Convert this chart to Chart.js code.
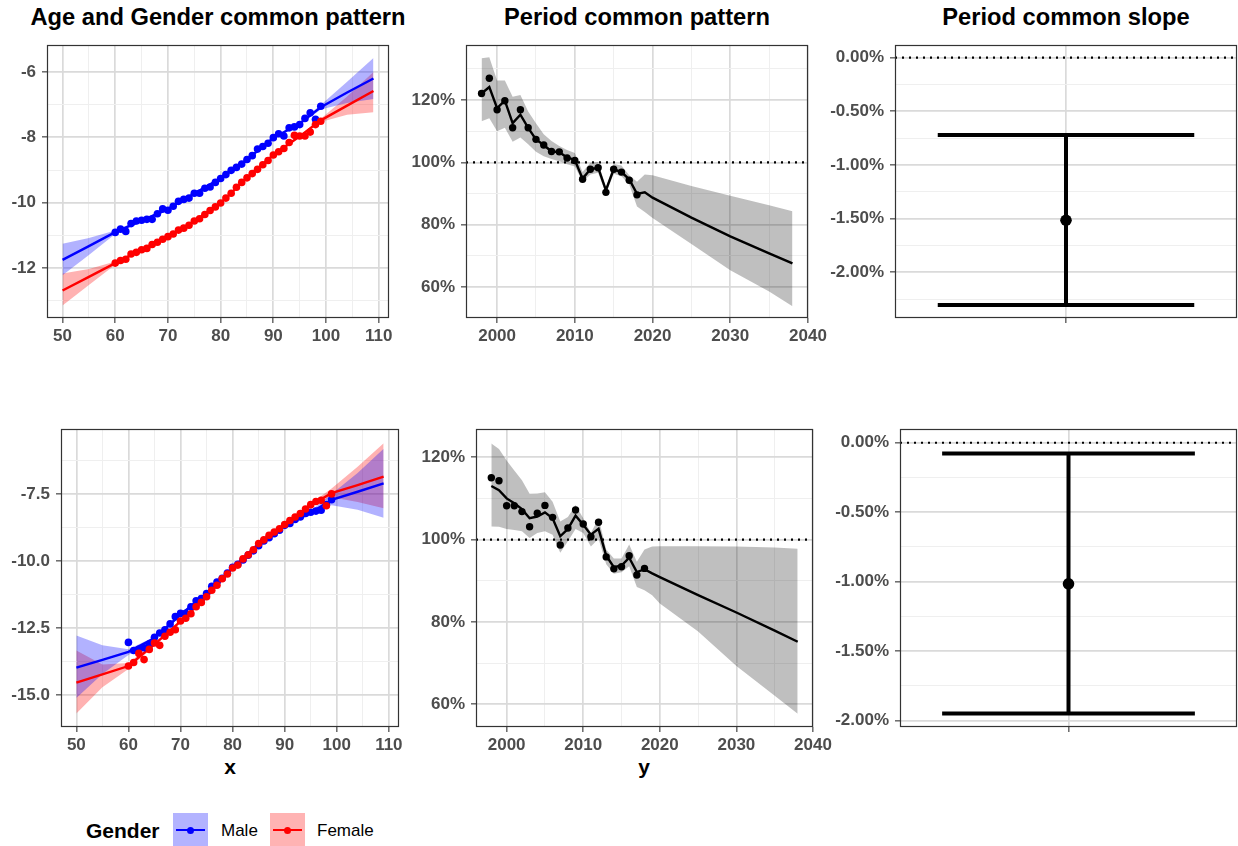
<!DOCTYPE html>
<html>
<head>
<meta charset="utf-8">
<script src="https://cdn.jsdelivr.net/npm/chart.js@4.4.1/dist/chart.umd.min.js"></script>
<style>
  body { margin: 0; background: #fff; width: 1238px; height: 846px; overflow: hidden; position: relative;
         font-family: "Liberation Sans", Arial, Helvetica, sans-serif; }
  canvas { position: absolute; }
  .txt { position: absolute; white-space: nowrap; line-height: 1; color: #000; }
  .title { font-weight: bold; font-size: 23.7px; transform: translateX(-50%); }
  .axtitle { font-weight: bold; font-size: 21px; transform: translateX(-50%); }
  .key { position: absolute; width: 35px; height: 34px; }
  .key .ln { position: absolute; left: 3px; width: 29px; top: 16px; height: 2px; }
  .key .dt { position: absolute; left: 14px; top: 13.5px; width: 7px; height: 7px; border-radius: 50%; }
</style>
</head>
<body>

<div class="txt title" style="left:218px; top:6px;">Age and Gender common pattern</div>
<div class="txt title" style="left:637px; top:6px;">Period common pattern</div>
<div class="txt title" style="left:1066px; top:6px;">Period common slope</div>

<div class="txt axtitle" style="left:230px; top:756px;">x</div>
<div class="txt axtitle" style="left:644px; top:756px;">y</div>

<div class="txt" style="left:86px; top:820px; font-weight:bold; font-size:21px;">Gender</div>
<div class="key" style="left:173px; top:813px; background:#B3B3FF;">
  <div class="ln" style="background:#0000FF;"></div><div class="dt" style="background:#0000FF;"></div>
</div>
<div class="txt" style="left:221px; top:822px; font-size:17px;">Male</div>
<div class="key" style="left:270px; top:813px; background:#FFB3B3;">
  <div class="ln" style="background:#FF0000;"></div><div class="dt" style="background:#FF0000;"></div>
</div>
<div class="txt" style="left:317px; top:822px; font-size:17px;">Female</div>

<script>
const FONT = '"Liberation Sans", Arial, Helvetica, sans-serif';

// ---------- age / gender pattern ----------
const ages = [60,61,62,63,64,65,66,67,68,69,70,71,72,73,74,75,76,77,78,79,
              80,81,82,83,84,85,86,87,88,89,90,91,92,93,94,95,96,97,98,99];
const maleTop = [-10.91,-10.81,-10.88,-10.64,-10.56,-10.54,-10.51,-10.51,-10.34,-10.19,
                 -10.23,-10.11,-9.96,-9.90,-9.86,-9.71,-9.71,-9.56,-9.52,-9.38,
                 -9.26,-9.14,-9.01,-8.92,-8.82,-8.68,-8.56,-8.36,-8.28,-8.18,
                 -8.01,-7.89,-7.96,-7.71,-7.68,-7.61,-7.42,-7.25,-7.45,-7.05];
const femaleTop = [-11.85,-11.77,-11.73,-11.57,-11.52,-11.44,-11.40,-11.28,-11.21,-11.12,
                   -11.04,-10.96,-10.84,-10.78,-10.69,-10.56,-10.49,-10.36,-10.24,-10.13,
                   -10.01,-9.86,-9.71,-9.53,-9.38,-9.24,-9.11,-8.98,-8.84,-8.71,
                   -8.54,-8.44,-8.34,-8.16,-7.94,-7.96,-7.96,-7.84,-7.61,-7.51];
const maleBot = [-13.03,-13.33,-13.29,-13.23,-13.09,-12.84,-12.68,-12.56,-12.34,-12.07,
                 -11.95,-11.95,-11.70,-11.48,-11.40,-11.21,-10.94,-10.78,-10.64,-10.45,
                 -10.23,-10.12,-9.96,-9.78,-9.62,-9.43,-9.25,-9.13,-8.98,-8.85,
                 -8.67,-8.60,-8.45,-8.36,-8.23,-8.18,-8.14,-8.11,-7.90,-7.72];
const femaleBot = [-13.91,-13.78,-13.44,-13.67,-13.29,-13.05,-13.14,-12.80,-12.65,-12.56,
                   -12.23,-12.13,-11.96,-11.70,-11.54,-11.33,-11.09,-10.90,-10.66,-10.48,
                   -10.26,-10.15,-9.92,-9.77,-9.58,-9.35,-9.21,-9.04,-8.92,-8.80,
                   -8.64,-8.49,-8.36,-8.23,-8.06,-7.90,-7.78,-7.74,-7.94,-7.50];

// fitted curves and confidence bands
const fitAges = [50,55,60,65,70,75,80,85,90,95,99,104,109];
const maleTopFit = [-11.75,-11.33,-10.90,-10.55,-10.20,-9.72,-9.25,-8.68,-8.02,-7.58,-7.08,-6.63,-6.20];
const maleTopHi  = [-11.26,-11.08,-10.85,-10.51,-10.16,-9.68,-9.21,-8.64,-7.98,-7.53,-7.01,-6.30,-5.57];
const maleTopLo  = [-12.22,-11.60,-10.96,-10.59,-10.24,-9.76,-9.29,-8.72,-8.06,-7.63,-7.15,-6.95,-6.83];
const femaleTopFit = [-12.69,-12.27,-11.85,-11.44,-11.04,-10.57,-10.01,-9.24,-8.54,-7.97,-7.48,-7.03,-6.58];
const femaleTopHi  = [-12.17,-12.03,-11.80,-11.40,-11.00,-10.53,-9.97,-9.20,-8.50,-7.93,-7.43,-6.75,-6.00];
const femaleTopLo  = [-13.15,-12.52,-11.90,-11.48,-11.08,-10.61,-10.05,-9.28,-8.58,-8.01,-7.53,-7.31,-7.23];
const maleBotFit = [-13.97,-13.68,-13.38,-12.87,-12.00,-11.20,-10.25,-9.43,-8.68,-8.20,-7.72,-7.42,-7.11];
const maleBotHi  = [-12.77,-13.14,-13.28,-12.82,-11.95,-11.15,-10.20,-9.38,-8.63,-8.13,-7.50,-6.72,-5.82];
const maleBotLo  = [-15.10,-14.21,-13.50,-12.92,-12.05,-11.25,-10.30,-9.48,-8.73,-8.27,-7.92,-8.09,-8.39];
const femaleBotFit = [-14.53,-14.22,-13.91,-13.10,-12.25,-11.33,-10.26,-9.35,-8.64,-7.92,-7.47,-7.17,-6.86];
const femaleBotHi  = [-13.33,-13.85,-13.80,-13.05,-12.20,-11.28,-10.21,-9.30,-8.59,-7.86,-7.30,-6.49,-5.61];
const femaleBotLo  = [-15.68,-14.70,-14.02,-13.15,-12.30,-11.38,-10.31,-9.40,-8.69,-7.98,-7.62,-7.80,-8.03];

// ---------- period pattern ----------
const years = [1998,1999,2000,2001,2002,2003,2004,2005,2006,2007,2008,2009,2010,
               2011,2012,2013,2014,2015,2016,2017,2018];
const periodTop = [122.1,127.0,116.9,119.8,111.1,116.9,111.1,107.4,105.6,103.5,103.4,
                   101.4,100.6,94.6,97.8,98.3,90.4,97.8,96.9,94.3,89.6];
const periodBot = [115.0,114.3,108.2,108.2,106.8,103.1,106.4,108.3,105.4,98.7,102.8,
                   107.2,103.8,100.7,104.2,95.8,92.9,93.4,96.1,91.4,93.0];

const fitYears = [1998,1999,2000,2001,2002,2003,2004,2005,2006,2007,2008,2009,2010,
                  2011,2012,2013,2014,2015,2016,2017,2018,2019,2020,2025,2030,2035,2038];
const periodTopFit = [122.1,124.2,117.4,119.8,112.6,115.3,111.1,107.4,105.6,103.5,103.3,101.6,100.8,
                      94.8,97.8,98.3,91.1,97.8,96.9,94.6,89.9,90.4,88.7,82.3,76.3,70.8,67.6];
const periodTopHi  = [133.4,133.7,126.3,126.3,121.1,121.6,116.3,112.6,109.0,106.9,105.3,104.0,103.0,
                      96.9,99.9,100.1,91.9,99.5,99.0,95.9,93.8,96.1,95.9,92.4,89.3,86.3,84.3];
const periodTopLo  = [113.2,114.2,110.0,111.1,106.6,108.0,105.8,103.4,102.0,101.1,100.4,99.4,98.7,
                      93.8,96.1,96.7,89.8,96.4,95.6,92.9,85.9,84.1,82.2,73.8,65.4,58.6,53.9];
const periodBotFit = [113.0,112.0,110.0,108.8,107.4,105.2,105.6,106.6,105.2,100.8,102.6,105.8,103.6,
                      101.2,102.6,96.1,93.3,93.7,95.6,92.1,92.8,91.8,90.9,86.5,82.3,77.9,75.2];
const periodBotHi  = [123.3,122.0,119.2,116.8,114.4,111.1,111.2,111.5,109.2,104.4,105.5,108.4,105.2,
                      101.6,105.2,97.6,95.4,95.4,98.8,94.6,97.6,98.3,98.4,98.4,98.3,98.1,97.8];
const periodBotLo  = [103.2,103.1,102.6,102.3,102.0,100.4,101.6,102.0,101.2,96.8,99.6,102.6,101.6,
                      98.3,100.2,94.0,91.7,92.1,93.5,88.5,87.7,86.5,84.5,77.7,69.3,62.1,57.7];

// ---------- period slope (top, bottom) ----------
const slopeEst  = [-1.515, -1.016];
const slopeLow  = [-2.304, -1.950];
const slopeHigh = [-0.722, -0.078];

// ---------- ticks ----------
const ageTicks = [50,55,60,65,70,75,80,85,90,95,100,105,110];
const ageMajor = [50,60,70,80,90,100,110];
const yearTicks = [2000,2005,2010,2015,2020,2025,2030,2035,2040];
const yearMajor = [2000,2010,2020,2030,2040];
const topAgeYTicks = [-13,-12,-11,-10,-9,-8,-7,-6];
const topAgeYMajor = [-12,-10,-8,-6];
const botAgeYTicks = [-15,-13.75,-12.5,-11.25,-10,-8.75,-7.5,-6.25];
const botAgeYMajor = [-15,-12.5,-10,-7.5];
const topPctTicks = [60,70,80,90,100,110,120,130];
const botPctTicks = [60,70,80,90,100,110,120];
const pctMajor = [60,80,100,120];
const topSlopeTicks = [-2.25,-2,-1.75,-1.5,-1.25,-1,-0.75,-0.5,-0.25,0];
const botSlopeTicks = [-2,-1.75,-1.5,-1.25,-1,-0.75,-0.5,-0.25,0];
const slopeMajor = [-2,-1.5,-1,-0.5,0];

// ---------- layout helpers ----------
const YW = 70, XH = 34, PT = 12, PR = 30;

const panelBorder = {
  id: 'panelBorder',
  afterDraw(chart) {
    const a = chart.chartArea, ctx = chart.ctx;
    ctx.save();
    ctx.strokeStyle = '#333333';
    ctx.lineWidth = 1.2;
    ctx.strokeRect(Math.round(a.left) + 0.5, Math.round(a.top) + 0.5,
                   Math.round(a.right - a.left) - 1, Math.round(a.bottom - a.top) - 1);
    ctx.restore();
  }
};

const pts = (xs, ys) => xs.map((x, i) => ({ x: x, y: ys[i] }));

function axis(min, max, ticks, majors, fmt, isX) {
  const isMaj = c => c.tick && majors.includes(c.tick.value);
  return {
    type: 'linear', min: min, max: max, bounds: 'data',
    afterBuildTicks: s => { s.ticks = ticks.map(v => ({ value: v })); },
    afterFit: s => { if (isX) s.height = XH; else s.width = YW; },
    grid: {
      color: c => isMaj(c) ? '#DADADA' : '#EFEFEF',
      lineWidth: c => isMaj(c) ? 1.7 : 1,
      tickColor: c => isMaj(c) ? '#333333' : 'rgba(0,0,0,0)',
      tickLength: 5, tickWidth: 1.1, drawTicks: true
    },
    border: { display: false },
    ticks: {
      autoSkip: false, maxRotation: 0, minRotation: 0, padding: isX ? 3 : 6,
      color: '#4D4D4D', font: { family: FONT, size: 17, weight: 'bold' },
      callback: v => majors.includes(v) ? fmt(v) : ''
    }
  };
}

function band(xs, hi, lo, color, order) {
  return [
    { data: pts(xs, hi), borderColor: 'transparent', borderWidth: 0, pointRadius: 0, fill: false, order: order },
    { data: pts(xs, lo), borderColor: 'transparent', borderWidth: 0, pointRadius: 0, fill: '-1', backgroundColor: color, order: order }
  ];
}
function line(xs, ys, color, width, order, dash) {
  return { data: pts(xs, ys), borderColor: color, borderWidth: width, pointRadius: 0, fill: false,
           tension: 0, order: order, borderDash: dash || [] };
}
function dots(xs, ys, color, r, order) {
  return { data: pts(xs, ys), showLine: false, pointRadius: r, pointBackgroundColor: color,
           pointBorderColor: color, pointBorderWidth: 0, order: order };
}

function build(id, area, datasets, xScale, yScale) {
  const cv = document.createElement('canvas');
  cv.id = id;
  cv.width = area.R - area.L + YW + PR;
  cv.height = area.B - area.T + PT + XH;
  cv.style.left = (area.L - YW) + 'px';
  cv.style.top = (area.T - PT) + 'px';
  document.body.appendChild(cv);
  return new Chart(cv.getContext('2d'), {
    type: 'line',
    data: { datasets: datasets },
    options: {
      responsive: false, animation: false, events: [],
      layout: { padding: { left: 0, top: PT, right: PR, bottom: 0 } },
      plugins: { legend: { display: false }, tooltip: { enabled: false } },
      scales: { x: xScale, y: yScale }
    },
    plugins: [panelBorder]
  });
}

const BLUE = '#0000FF', RED = '#FF0000';
const BLUE_BAND = 'rgba(0,0,255,0.3)', RED_BAND = 'rgba(255,0,0,0.3)';
const GREY_BAND = 'rgba(0,0,0,0.25)';
const DOTTED = [2, 5];

// ---------- age / gender panels ----------
function agePanel(id, area, yMin, yMax, yTicks, yMajor, yFmt, mFit, mHi, mLo, fFit, fHi, fLo, mPts, fPts) {
  const ds = [].concat(
    band(fitAges, mHi, mLo, BLUE_BAND, 4),
    band(fitAges, fHi, fLo, RED_BAND, 4),
    [line(fitAges, mFit, BLUE, 2.4, 2.1), line(fitAges, fFit, RED, 2.4, 2),
     dots(ages, mPts, BLUE, 3.8, 0.1), dots(ages, fPts, RED, 3.8, 0)]
  );
  build(id, area, ds,
        axis(47.05, 111.95, ageTicks, ageMajor, v => String(v), true),
        axis(yMin, yMax, yTicks, yMajor, yFmt, false));
}
agePanel('ageTop', { L: 47, R: 389, T: 41, B: 318 }, -13.53, -5.18, topAgeYTicks, topAgeYMajor, v => String(v),
         maleTopFit, maleTopHi, maleTopLo, femaleTopFit, femaleTopHi, femaleTopLo, maleTop, femaleTop);
agePanel('ageBot', { L: 61, R: 399, T: 425, B: 727 }, -16.18, -5.09, botAgeYTicks, botAgeYMajor, v => v.toFixed(1),
         maleBotFit, maleBotHi, maleBotLo, femaleBotFit, femaleBotHi, femaleBotLo, maleBot, femaleBot);

// ---------- period panels ----------
function periodPanel(id, area, yMin, yMax, yTicks, fit, hi, lo, obs) {
  const ds = [].concat(
    band(fitYears, hi, lo, GREY_BAND, 4),
    [line([1996, 2040], [100, 100], '#000000', 2.2, 2, DOTTED),
     line(fitYears, fit, '#000000', 2.4, 1),
     dots(years, obs, '#000000', 3.7, 0)]
  );
  build(id, area, ds,
        axis(1996, 2040, yearTicks, yearMajor, v => String(v), true),
        axis(yMin, yMax, yTicks, pctMajor, v => v + '%', false));
}
periodPanel('periodTop', { L: 466, R: 808, T: 41, B: 318 }, 50.1, 137.6, topPctTicks, periodTopFit, periodTopHi, periodTopLo, periodTop);
periodPanel('periodBot', { L: 476, R: 813, T: 425, B: 727 }, 54.5, 126.8, botPctTicks, periodBotFit, periodBotHi, periodBotLo, periodBot);

// ---------- slope panels ----------
function slopePanel(id, area, k, yMin, yMax, yTicks) {
  const ds = [
    line([0.4, 1.6], [0, 0], '#000000', 2.2, 2, DOTTED),
    line([1, 1], [slopeHigh[k], slopeLow[k]], '#000000', 4, 1),
    line([0.55, 1.45], [slopeHigh[k], slopeHigh[k]], '#000000', 4, 1),
    line([0.55, 1.45], [slopeLow[k], slopeLow[k]], '#000000', 4, 1),
    dots([1], [slopeEst[k]], '#000000', 5.8, 0)
  ];
  build(id, area, ds,
        axis(0.4, 1.6, [1], [1], v => '', true),
        axis(yMin, yMax, yTicks, slopeMajor, v => v.toFixed(2) + '%', false));
}
slopePanel('slopeTop', { L: 895, R: 1237, T: 41, B: 318 }, 0, -2.4255, 0.1155, topSlopeTicks);
slopePanel('slopeBot', { L: 900, R: 1237, T: 425, B: 727 }, 1, -2.0475, 0.0975, botSlopeTicks);
</script>
</body>
</html>
